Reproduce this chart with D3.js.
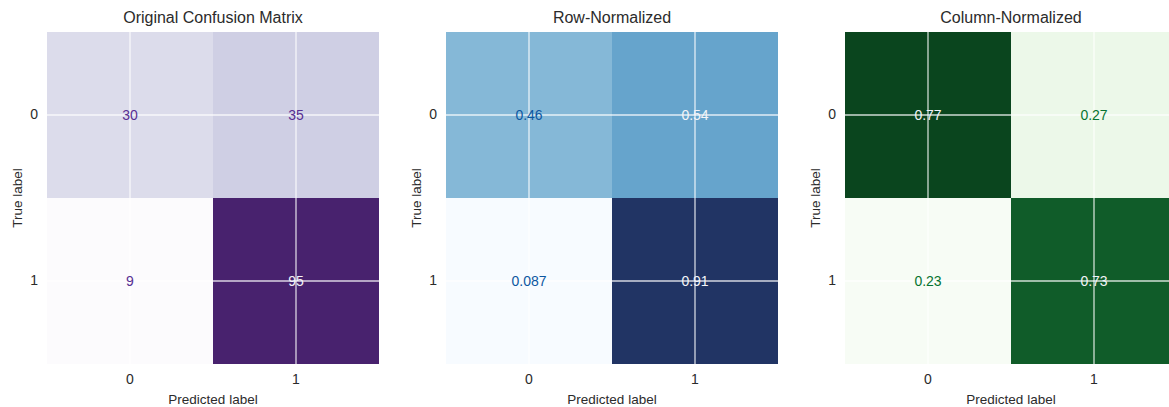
<!DOCTYPE html>
<html>
<head>
<meta charset="utf-8">
<script src="https://cdn.jsdelivr.net/npm/d3@7/dist/d3.min.js"></script>
<style>
  html, body { margin: 0; padding: 0; background: #fff; }
  svg { display: block; }
  text { font-family: "Liberation Sans", Arial, sans-serif; }
</style>
</head>
<body>
<svg id="chart" width="1169" height="407"></svg>
<script>
// ---- data ----
const categories = ["0", "1"];
const countValues = [[30, 35], [9, 95]];
const rowNormValues = [[0.46, 0.54], [0.087, 0.91]];
const colNormValues = [[0.77, 0.27], [0.23, 0.73]];
const panelTitles = ["Original Confusion Matrix", "Row-Normalized", "Column-Normalized"];
const xAxisLabel = "Predicted label";
const yAxisLabel = "True label";

// ---- layout ----
const svg = d3.select("#chart");
const panelLeft = [47, 446, 845];
const plotTop = 32, plotSize = 332;

// matplotlib-style linear colormaps built from the 9-class ColorBrewer schemes,
// slightly muted toward the dark end to match the reference rendering
function cmap(scheme, k, lift) {
  const base = d3.piecewise(d3.interpolateRgb, scheme[9]);
  const f = t => {
    const c = d3.hcl(base(t));
    c.c *= 1 - (1 - k) * t;
    c.l += lift * t * t;
    return c.formatHex();
  };
  f.base = base;
  return f;
}

const panels = [
  { title: panelTitles[0], values: countValues, interp: cmap(d3.schemePurples, 0.68, 5), fmt: d3.format("d") },
  { title: panelTitles[1], values: rowNormValues, interp: cmap(d3.schemeBlues, 0.8, 2), fmt: d3.format(".2g") },
  { title: panelTitles[2], values: colNormValues, interp: cmap(d3.schemeGreens, 0.93, 0.5), fmt: d3.format(".2g") }
];

panels.forEach((p, i) => {
  const size = plotSize;
  const g = svg.append("g").attr("transform", `translate(${panelLeft[i]},${plotTop})`);
  const x = d3.scaleBand().domain(categories).range([0, size]);
  const y = d3.scaleBand().domain(categories).range([0, size]);
  const flat = p.values.flat();
  const vmin = d3.min(flat), vmax = d3.max(flat);
  const color = d3.scaleSequential(p.interp).domain([vmin, vmax]);
  const thresh = (vmin + vmax) / 2;

  const cells = [];
  p.values.forEach((row, r) => row.forEach((v, c) => cells.push({ r, c, v })));

  g.selectAll("rect.cell").data(cells).join("rect")
    .attr("class", "cell")
    .attr("x", d => x(categories[d.c]))
    .attr("y", d => y(categories[d.r]))
    .attr("width", x.bandwidth())
    .attr("height", y.bandwidth())
    .attr("fill", d => color(d.v));

  // grid lines (white) at tick positions
  categories.forEach(cat => {
    const cx = x(cat) + x.bandwidth() / 2;
    g.append("line").attr("x1", cx).attr("x2", cx).attr("y1", 0).attr("y2", size)
      .attr("stroke", "#fff").attr("stroke-width", 1.3).attr("stroke-opacity", 0.8);
    const cy = y(cat) + y.bandwidth() / 2;
    g.append("line").attr("x1", 0).attr("x2", size).attr("y1", cy).attr("y2", cy)
      .attr("stroke", "#fff").attr("stroke-width", 1.3).attr("stroke-opacity", 0.8);
  });

  // cell text
  g.selectAll("text.val").data(cells).join("text")
    .attr("class", "val")
    .attr("x", d => x(categories[d.c]) + x.bandwidth() / 2)
    .attr("y", d => y(categories[d.r]) + y.bandwidth() / 2)
    .attr("text-anchor", "middle")
    .attr("dominant-baseline", "central")
    .attr("font-size", 14)
    .attr("fill", d => d.v > thresh ? "#f4f4f8" : p.interp.base(0.85))
    .text(d => p.fmt(d.v));

  // axes
  const xAxis = g.append("g").attr("transform", `translate(0,${size})`)
    .call(d3.axisBottom(x).tickSize(0).tickPadding(10));
  const yAxis = g.append("g").call(d3.axisLeft(y).tickSize(0).tickPadding(9));
  [xAxis, yAxis].forEach(a => {
    a.select(".domain").remove();
    a.selectAll("text").attr("font-size", 14).attr("fill", "#2b2b2b")
      .attr("font-family", "'Liberation Sans', Arial, sans-serif");
  });

  // title
  g.append("text").attr("x", size / 2).attr("y", -9)
    .attr("text-anchor", "middle").attr("font-size", 16).attr("fill", "#2b2b2b")
    .text(p.title);

  // axis labels
  g.append("text").attr("x", size / 2).attr("y", size + 40)
    .attr("text-anchor", "middle").attr("font-size", 13.5).attr("fill", "#2b2b2b")
    .text(xAxisLabel);
  g.append("text")
    .attr("transform", `translate(-25,${size / 2}) rotate(-90)`)
    .attr("text-anchor", "middle").attr("font-size", 13.5).attr("fill", "#2b2b2b")
    .text(yAxisLabel);
});
</script>
</body>
</html>
